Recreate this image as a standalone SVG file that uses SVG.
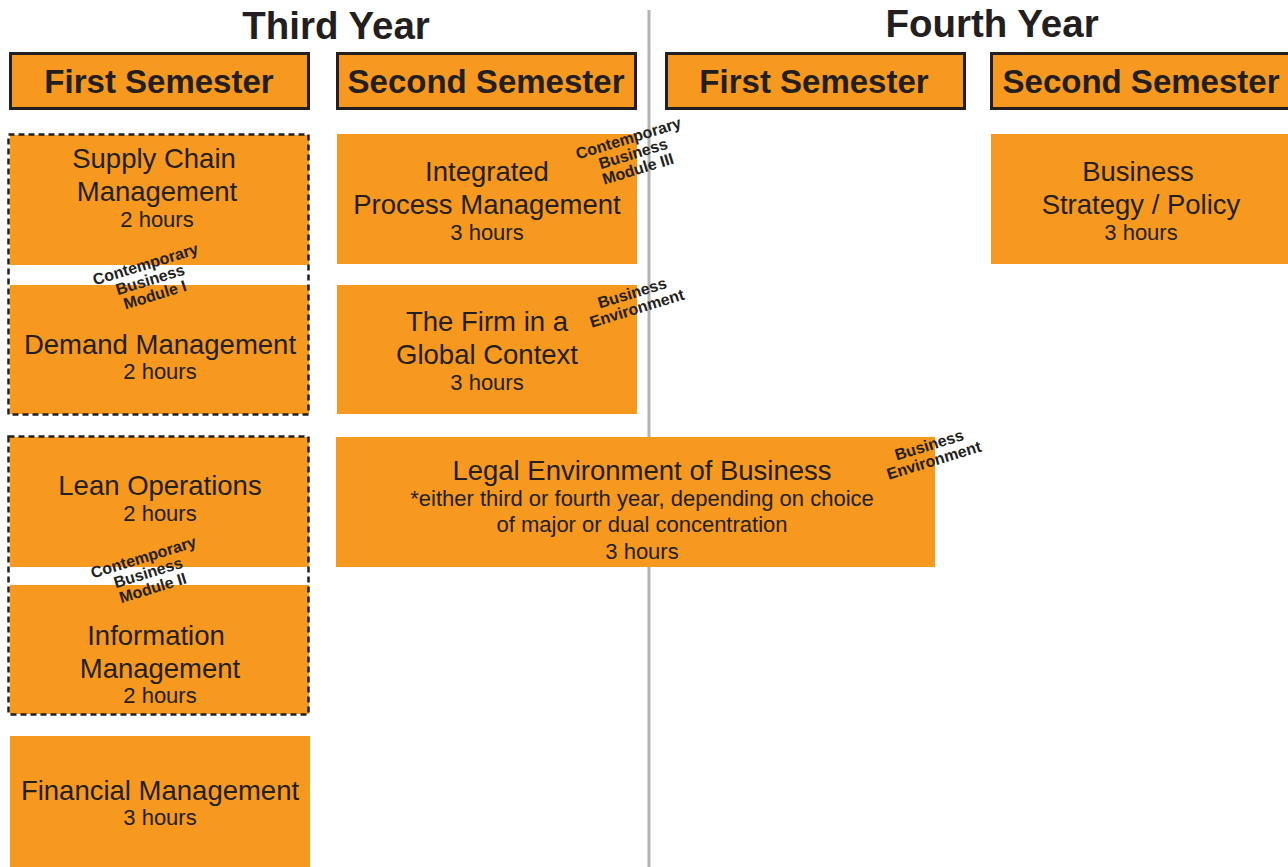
<svg xmlns="http://www.w3.org/2000/svg" width="1288" height="867" viewBox="0 0 1288 867">
<style>
.bg{fill:#ffffff}
.box{fill:#F7981F}
.hdr{fill:#F7981F;stroke:#231F20;stroke-width:3}
.dash{fill:none;stroke:#231F20;stroke-width:2.5;stroke-dasharray:6 4}
.t{font-family:"Liberation Sans",Arial,sans-serif;font-size:27.5px;fill:#231F20;text-anchor:middle}
.h{font-family:"Liberation Sans",Arial,sans-serif;font-size:22px;fill:#231F20;text-anchor:middle}
.ht{font-family:"Liberation Sans",Arial,sans-serif;font-size:33px;font-weight:bold;fill:#231F20;text-anchor:middle}
.yr{font-family:"Liberation Sans",Arial,sans-serif;font-size:38.5px;font-weight:bold;fill:#231F20;text-anchor:middle}
.tag{font-family:"Liberation Sans",Arial,sans-serif;font-size:16px;font-weight:bold;fill:#231F20;text-anchor:middle}
.div{stroke:#B3B3B3;stroke-width:3}
</style>
<rect class="bg" x="0" y="0" width="1288" height="867"/>
<text class="yr" x="336" y="39">Third Year</text>
<text class="yr" x="992" y="37">Fourth Year</text>
<g id="connectors">
<line class="div" x1="649" y1="10" x2="649" y2="867"/>
</g>
<g id="h1"><rect class="hdr" x="10.5" y="53.5" width="298" height="55"/><text class="ht" x="159" y="93">First Semester</text></g>
<g id="h2"><rect class="hdr" x="337.5" y="53.5" width="298" height="55"/><text class="ht" x="486" y="93">Second Semester</text></g>
<g id="h3"><rect class="hdr" x="666.5" y="53.5" width="298" height="55"/><text class="ht" x="814" y="93">First Semester</text></g>
<g id="h4"><rect class="hdr" x="991.5" y="53.5" width="300" height="55"/><text class="ht" x="1141" y="93">Second Semester</text></g>

<g id="scm"><rect class="box" x="10" y="135" width="299" height="130"/>
<text class="t" x="154" y="168">Supply Chain</text><text class="t" x="157" y="201">Management</text><text class="h" x="157" y="227">2 hours</text></g>
<g id="dm"><rect class="box" x="10" y="285" width="299" height="129"/>
<text class="t" x="160" y="354">Demand Management</text><text class="h" x="160" y="379">2 hours</text></g>
<rect class="dash" x="8.5" y="134.5" width="300" height="280"/>
<g id="cbm1" transform="translate(150,279) rotate(-17)">
<text class="tag" x="0" y="-10">Contemporary</text><text class="tag" x="0" y="6">Business</text><text class="tag" x="0" y="22">Module I</text></g>

<g id="lo"><rect class="box" x="10" y="437" width="299" height="130"/>
<text class="t" x="160" y="495">Lean Operations</text><text class="h" x="160" y="521">2 hours</text></g>
<g id="im"><rect class="box" x="10" y="585" width="299" height="129"/>
<text class="t" x="156" y="645">Information</text><text class="t" x="160" y="678">Management</text><text class="h" x="160" y="703">2 hours</text></g>
<rect class="dash" x="8.5" y="436.5" width="300" height="278"/>
<g id="cbm2" transform="translate(148,572) rotate(-17)">
<text class="tag" x="0" y="-10">Contemporary</text><text class="tag" x="0" y="6">Business</text><text class="tag" x="0" y="22">Module II</text></g>

<g id="fm"><rect class="box" x="10" y="736" width="300" height="131"/>
<text class="t" x="160" y="800">Financial Management</text><text class="h" x="160" y="825">3 hours</text></g>

<g id="ipm"><rect class="box" x="337" y="134" width="300" height="130"/>
<text class="t" x="487" y="181">Integrated</text><text class="t" x="487" y="214">Process Management</text><text class="h" x="487" y="240">3 hours</text></g>
<g id="cbm3" transform="translate(633,153) rotate(-17)">
<text class="tag" x="0" y="-10">Contemporary</text><text class="tag" x="0" y="6">Business</text><text class="tag" x="0" y="22">Module III</text></g>

<g id="firm"><rect class="box" x="337" y="285" width="300" height="129"/>
<text class="t" x="487" y="331">The Firm in a</text><text class="t" x="487" y="364">Global Context</text><text class="h" x="487" y="390">3 hours</text></g>
<g id="be1" transform="translate(635,302) rotate(-17)">
<text class="tag" x="0" y="-4">Business</text><text class="tag" x="0" y="12">Environment</text></g>

<g id="legal"><rect class="box" x="336" y="437" width="599" height="130"/>
<text class="t" x="642" y="480">Legal Environment of Business</text>
<text class="h" x="642" y="506">*either third or fourth year, depending on choice</text>
<text class="h" x="642" y="532">of major or dual concentration</text>
<text class="h" x="642" y="559">3 hours</text></g>
<g id="be2" transform="translate(932,454) rotate(-17)">
<text class="tag" x="0" y="-4">Business</text><text class="tag" x="0" y="12">Environment</text></g>

<g id="bsp"><rect class="box" x="991" y="134" width="297" height="130"/>
<text class="t" x="1138" y="181">Business</text><text class="t" x="1141" y="214">Strategy / Policy</text><text class="h" x="1141" y="240">3 hours</text></g>
</svg>
